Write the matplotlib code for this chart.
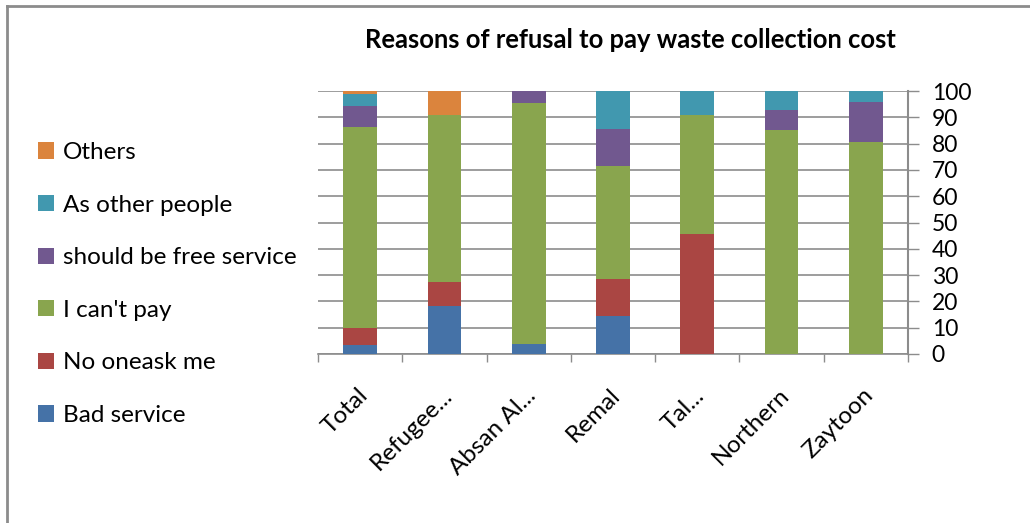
import matplotlib
matplotlib.use("Agg")
import matplotlib.pyplot as plt
from matplotlib.lines import Line2D
import numpy as np

plt.rcParams['font.family'] = ['Lato', 'DejaVu Sans']

# Districts (category axis)
categories = ["Total", "Refugee...", "Absan Al...", "Remal", "Tal...", "Northern", "Zaytoon"]

# Share of respondents (%) per refusal reason, bottom to top of each stack
bad_service   = [3.3, 18.2, 3.9, 14.3, 0.0, 0.0, 0.0]
no_one_ask    = [6.7, 9.1, 0.0, 14.3, 45.5, 0.0, 0.0]
cant_pay      = [76.3, 63.6, 91.5, 42.8, 45.4, 85.2, 80.5]
free_service  = [8.0, 0.0, 4.6, 14.3, 0.0, 7.4, 15.3]
as_other      = [4.7, 0.0, 0.0, 14.3, 9.1, 7.4, 4.2]
others        = [1.0, 9.1, 0.0, 0.0, 0.0, 0.0, 0.0]

series_names = ["Bad service", "No oneask me", "I can't pay",
                "should be free service", "As other people", "Others"]
series_values = [bad_service, no_one_ask, cant_pay, free_service, as_other, others]
colors = ["#4572A7", "#AA4643", "#89A54E", "#71588F", "#4198AF", "#DB843D"]

yticks = list(range(0, 101, 10))

fig = plt.figure(figsize=(10.30, 5.23), dpi=100)
ax = fig.add_axes([318 / 1030, 1 - 354 / 523, (908 - 318) / 1030, (354 - 91) / 523])

x = np.arange(len(categories))
bottom = np.zeros(len(categories))
handles = []
for name, vals, col in zip(series_names, series_values, colors):
    b = ax.bar(x, vals, width=0.40, bottom=bottom, color=col, label=name, zorder=3)
    handles.append(b)
    bottom += np.array(vals)

ax.set_xlim(-0.5, len(categories) - 0.5)
ax.set_ylim(0, 100)

grid_col = "#8c8c8c"
ax.yaxis.tick_right()
ax.set_yticks(yticks)
ax.set_yticklabels([str(t) for t in yticks], fontsize=16.5, ha='left')
ax.tick_params(axis='y', direction='out', length=8, width=1.0, color=grid_col, pad=9)
ax.grid(axis='y', color=grid_col, linewidth=1.2, zorder=0)

# category boundary ticks on the x axis, labels at category centres
ax.set_xticks(np.arange(-0.5, len(categories), 1.0))
ax.set_xticklabels([])
ax.tick_params(axis='x', direction='out', length=6, width=1.0, color=grid_col)
for xi, lab in zip(x, categories):
    ax.text(xi + 0.05, -14.5, lab, rotation=45, ha='right', va='center',
            rotation_mode='anchor', fontsize=17.5, transform=ax.transData,
            clip_on=False)

for s in ['top', 'left']:
    ax.spines[s].set_visible(False)
ax.spines['right'].set_color(grid_col)
ax.spines['right'].set_linewidth(1.5)
ax.spines['bottom'].set_color(grid_col)
ax.spines['bottom'].set_linewidth(1.2)

fig.text(630 / 1030, 1 - 40 / 523, "Reasons of refusal to pay waste collection cost",
         ha='center', va='center', fontsize=18.4, fontweight='bold')

leg = fig.legend(handles[::-1], series_names[::-1], loc='center left',
                 bbox_to_anchor=(28 / 1030, 1 - 284 / 523), frameon=False,
                 fontsize=17.5, handlelength=0.65, handleheight=0.65,
                 handletextpad=0.4, labelspacing=1.3, borderaxespad=0)

# outer chart frame (top and left edges)
fig.add_artist(Line2D([7 / 1030, 7 / 1030], [0, 1 - 6 / 523], transform=fig.transFigure,
                      color="#8c8c8c", linewidth=2))
fig.add_artist(Line2D([7 / 1030, 1], [1 - 6 / 523, 1 - 6 / 523], transform=fig.transFigure,
                      color="#8c8c8c", linewidth=2))

fig.savefig("out.png", dpi=100)
